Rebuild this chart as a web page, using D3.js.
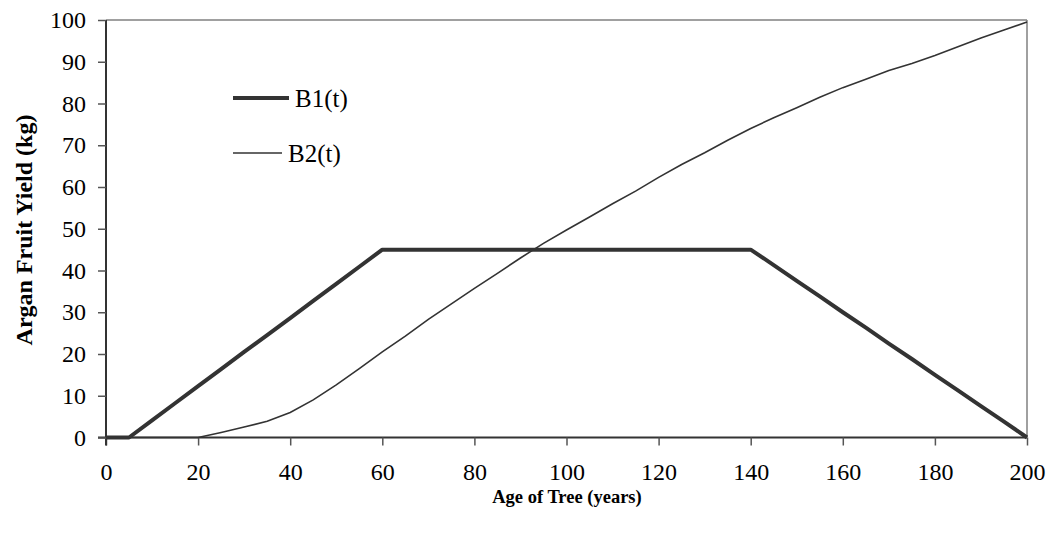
<!DOCTYPE html>
<html>
<head>
<meta charset="utf-8">
<script src="https://cdn.jsdelivr.net/npm/d3@7"></script>
<style>
  body { margin: 0; background: #fff; }
  svg text { font-family: "Liberation Serif", "Times New Roman", serif; fill: #000; }
</style>
</head>
<body>
<div class="chart"></div>
<script>
// values, every 5 years
var ages = [0,5,10,15,20,25,30,35,40,45,50,55,60,65,70,75,80,85,90,95,100,
  105,110,115,120,125,130,135,140,145,150,155,160,165,170,175,180,185,190,195,200];
var b1 = [0,0,4.1,8.2,12.3,16.4,20.5,24.5,28.6,32.7,36.8,40.9,45,45,45,45,45,45,45,45,45,
  45,45,45,45,45,45,45,45,41.3,37.5,33.8,30,26.3,22.5,18.8,15,11.3,7.5,3.8,0];
var b2 = [0,0,0,0,0,1.2,2.5,3.9,6,9,12.6,16.5,20.5,24.3,28.3,32,35.7,39.3,43,46.5,49.7,
  52.8,56,59,62.3,65.4,68.2,71.2,74,76.6,79,81.5,83.8,85.8,87.9,89.6,91.5,93.6,95.7,97.6,99.5];
var xTicks = [0,20,40,60,80,100,120,140,160,180,200];
var yTicks = [0,10,20,30,40,50,60,70,80,90,100];

var svg = d3.select(".chart")
  .append("svg")
    .attr("width",1050)
    .attr("height",538);

var x = d3.scaleLinear().domain([0,200]).range([106,1027]);
var y = d3.scaleLinear().domain([0,100]).range([437.5,20]);

// top and right frame
svg.append("line")
  .attr("x1",x(0)).attr("y1",y(100))
  .attr("x2",x(200)).attr("y2",y(100))
  .attr("stroke","#808080").attr("stroke-width",1.5);
svg.append("line")
  .attr("x1",x(200)).attr("y1",y(100))
  .attr("x2",x(200)).attr("y2",y(0))
  .attr("stroke","#808080").attr("stroke-width",1.5);

var xAxis = svg.append("g")
  .attr("transform","translate(0," + y(0) + ")")
  .call(d3.axisBottom(x).tickValues(xTicks).tickSize(8).tickPadding(17).tickSizeOuter(0));
var yAxis = svg.append("g")
  .attr("transform","translate(" + x(0) + ",0)")
  .call(d3.axisLeft(y).tickValues(yTicks).tickSize(8).tickPadding(12).tickSizeOuter(0));

[xAxis, yAxis].forEach(function(a) {
  a.attr("font-family","'Liberation Serif', 'Times New Roman', serif")
    .attr("font-size",24);
  a.select(".domain").attr("stroke","#333").attr("stroke-width",2);
  a.selectAll(".tick line").attr("stroke","#555").attr("stroke-width",1.5);
  a.selectAll(".tick text").attr("fill","#000");
});
xAxis.select(".domain").attr("d","M" + (x(0) - 8) + ",0H" + x(200));
yAxis.select(".domain").attr("d","M0," + (y(0) + 8) + "V" + y(100));

var pts = function(vals) {
  return ages.map(function(a, i) { return [a, vals[i]]; });
};
var line = d3.line()
  .x(function(d) { return x(d[0]); })
  .y(function(d) { return y(d[1]); });

svg.append("path")
  .datum(pts(b2))
  .attr("d",line)
  .attr("fill","none")
  .attr("stroke","#333")
  .attr("stroke-width",1.6);

svg.append("path")
  .datum(pts(b1))
  .attr("d",line)
  .attr("fill","none")
  .attr("stroke","#333")
  .attr("stroke-width",4)
  .attr("stroke-linejoin","round");

// legend
svg.append("line")
  .attr("x1",233).attr("y1",98)
  .attr("x2",289).attr("y2",98)
  .attr("stroke","#333")
  .attr("stroke-width",4);
svg.append("text")
  .attr("x",295)
  .attr("y",107)
  .style("font-size","25px")
  .text("B1(t)");

svg.append("line")
  .attr("x1",233).attr("y1",153)
  .attr("x2",282).attr("y2",153)
  .attr("stroke","#333")
  .attr("stroke-width",1.6);
svg.append("text")
  .attr("x",288)
  .attr("y",162)
  .style("font-size","25px")
  .text("B2(t)");

// axis titles
svg.append("text")
  .attr("x",567)
  .attr("y",503)
  .attr("text-anchor","middle")
  .style("font-size","18.5px")
  .style("font-weight","bold")
  .text("Age of Tree (years)");

svg.append("text")
  .attr("transform","translate(32,230) rotate(-90)")
  .attr("text-anchor","middle")
  .style("font-size","24px")
  .style("font-weight","bold")
  .text("Argan Fruit Yield (kg)");
</script>
</body>
</html>
